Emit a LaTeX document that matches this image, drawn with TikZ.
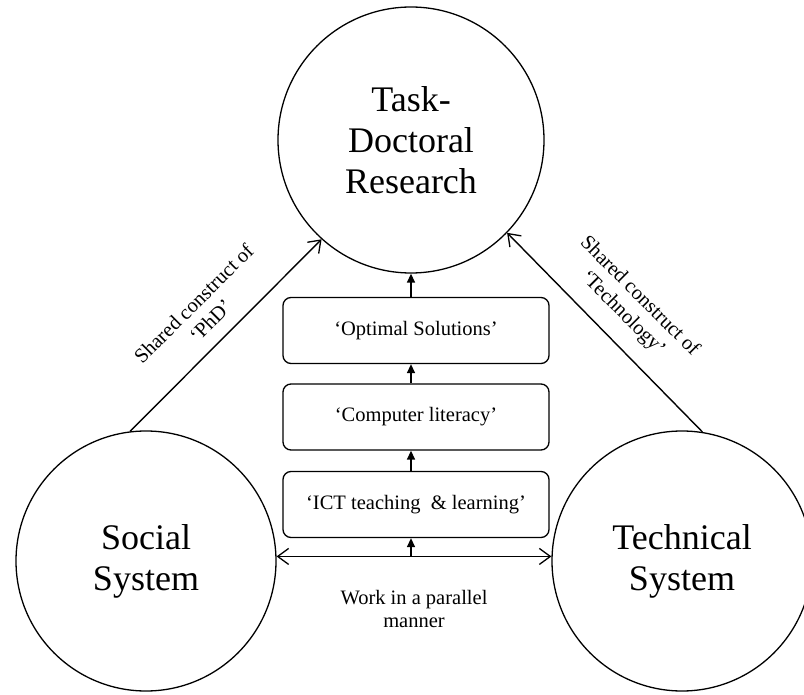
\documentclass[tikz,border=0pt]{standalone}
\usepackage{fontspec}
\setmainfont{Liberation Serif}
\usetikzlibrary{arrows.meta,calc}
\tikzset{
  bigcirc/.style={draw, circle, line width=1.3pt, inner sep=0pt, minimum size=260pt, align=center, font=\fontsize{36}{41}\selectfont},
  topcirc/.style={bigcirc, minimum size=266pt},
  stepbox/.style={draw, rounded corners=8pt, line width=1.3pt, minimum width=266pt, minimum height=66pt, inner sep=0pt, font=\fontsize{20.5}{24}\selectfont},
  smalltext/.style={align=center, inner sep=0pt, font=\fontsize{20.5}{24}\selectfont},
  openarrow/.style={line width=1.4pt, -{Straight Barb[length=11pt,width=16pt,line width=1.3pt]}},
  dblarrow/.style={line width=1.4pt, {Straight Barb[length=11pt,width=16pt,line width=1.3pt]}-{Straight Barb[length=11pt,width=16pt,line width=1.3pt]}},
  tri/.style={line width=1.4pt, -{Triangle[length=9pt,width=8pt]}}
}
\begin{document}
\begin{tikzpicture}[x=1pt,y=-1pt]
\useasboundingbox (0,0) rectangle (804,695);
\clip (0,0) rectangle (804,695);
\node[topcirc] (T) at (411,140) {Task-\\Doctoral\\Research};
\node[bigcirc] (L) at (146,561) {Social\\System};
\node[bigcirc] (R) at (682,561) {Technical\\System};

\node[stepbox] (opt) at (416,330.5) {‘Optimal Solutions’};
\node[stepbox] (comp) at (416,417) {‘Computer literacy’};
\node[stepbox] (ict) at (416,504.5) {‘ICT teaching~~\&~learning’};

\draw[dblarrow] (L.2) -- (R.178);
\coordinate (hmid) at ($(L.2)!0.5!(R.178)$);
\coordinate (hm) at (411,0);
\draw[tri] (hm |- hmid) -- (hm |- ict.south);
\draw[tri] (hm |- ict.north) -- (hm |- comp.south);
\draw[tri] (hm |- comp.north) -- (hm |- opt.south);
\draw[tri] (hm |- opt.north) -- (T.south);

\draw[openarrow] (L.97) -- (T.228);
\draw[openarrow] (R.81) -- (T.316);

\node[smalltext, rotate=45] (lblL) at (202,312) {Shared construct of\\‘PhD’};
\node[smalltext, rotate=-45] (lblR) at (631,305) {Shared construct of\\‘Technology’};
\node[smalltext, font=\fontsize{20.5}{23}\selectfont] (work) at (414,609) {Work in a parallel\\manner};
\end{tikzpicture}
\end{document}
